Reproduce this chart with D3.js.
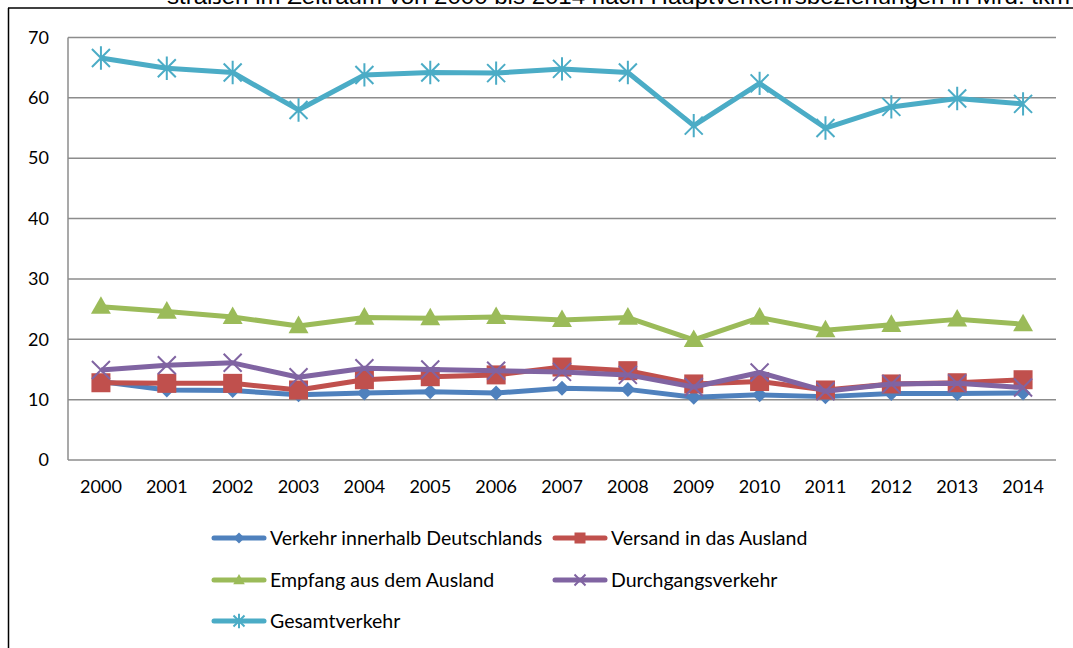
<!DOCTYPE html>
<html><head><meta charset="utf-8">
<script src="https://cdn.jsdelivr.net/npm/d3@7"></script>
<style>body{margin:0;background:#fff;overflow:hidden}</style>
</head><body>
<svg id="c" width="1073" height="648"></svg>
<script>
const years = ["2000","2001","2002","2003","2004","2005","2006","2007","2008","2009","2010","2011","2012","2013","2014"];
const yTicks = [0,10,20,30,40,50,60,70];
const titleText = "straßen im Zeitraum von 2000 bis 2014 nach Hauptverkehrsbeziehungen in Mrd. tkm";
const innerhalb = [13.0,11.6,11.5,10.8,11.1,11.3,11.1,11.9,11.7,10.4,10.8,10.5,11.0,11.0,11.1];
const versand   = [12.8,12.7,12.7,11.6,13.3,13.8,14.1,15.4,14.8,12.6,13.0,11.6,12.6,12.8,13.3];
const empfang   = [25.4,24.6,23.7,22.2,23.6,23.5,23.7,23.2,23.6,19.9,23.6,21.5,22.4,23.3,22.5];
const durchgang = [14.9,15.7,16.1,13.7,15.2,15.0,14.8,14.6,14.1,12.1,14.5,11.4,12.6,12.7,12.0];
const gesamt    = [66.6,64.9,64.2,58.0,63.8,64.2,64.1,64.8,64.2,55.4,62.4,55.0,58.5,59.9,59.0];
const seriesNames = ["Verkehr innerhalb Deutschlands","Versand in das Ausland","Empfang aus dem Ausland","Durchgangsverkehr","Gesamtverkehr"];
const seriesColors = ["#4F81BD","#C0504D","#9BBB59","#8064A2","#4BACC6"];
const seriesMarkers = ["diamond","square","triangle","x","star"];
const seriesValues = [innerhalb, versand, empfang, durchgang, gesamt];

const svg = d3.select("#c");
const font = "Lato, 'Open Sans', sans-serif";

// outer frame + clipped title
svg.append("text").attr("x",167).attr("y",4).attr("font-family","Liberation Sans, Arial, sans-serif")
  .attr("font-size",22).attr("textLength",903).attr("lengthAdjust","spacingAndGlyphs").attr("fill","#000").text(titleText);
svg.append("line").attr("x1",8).attr("x2",1073).attr("y1",8).attr("y2",8).attr("stroke","#000").attr("stroke-width",1.5);
svg.append("line").attr("x1",8.5).attr("x2",8.5).attr("y1",8).attr("y2",648).attr("stroke","#000").attr("stroke-width",1.5);

const L=68, R=1056, T=37.5, B=460;
const x = d3.scaleBand().domain(years).range([L,R]);
const y = d3.scaleLinear().domain([0,70]).range([B,T]);

// grid
svg.append("g").selectAll("line").data(yTicks).join("line")
  .attr("x1",L).attr("x2",R).attr("y1",d=>y(d)).attr("y2",d=>y(d))
  .attr("stroke","#8c8c8c").attr("stroke-width",1.5);
svg.append("line").attr("x1",L).attr("x2",L).attr("y1",T).attr("y2",B).attr("stroke","#8c8c8c").attr("stroke-width",1.5);

// y labels
const yAxis = d3.axisLeft(y).tickValues(yTicks).tickSize(0).tickPadding(19);
const ya = svg.append("g").attr("transform",`translate(${L},0)`).call(yAxis);
ya.select(".domain").remove();
ya.selectAll("text").attr("font-family",font).attr("font-size",18).attr("fill","#000");

const xAxis = d3.axisBottom(x).tickSize(0).tickPadding(20);
const xa = svg.append("g").attr("transform",`translate(0,${B})`).call(xAxis);
xa.select(".domain").remove();
xa.selectAll("text").attr("font-family",font).attr("font-size",18).attr("fill","#000");

function marker(g, type, color, s){
  if(type==="diamond"){
    g.append("path").attr("d",`M0,${-s}L${s},0L0,${s}L${-s},0Z`).attr("fill",color);
  } else if(type==="square"){
    g.append("rect").attr("x",-s).attr("y",-s).attr("width",2*s).attr("height",2*s).attr("fill",color);
  } else if(type==="triangle"){
    g.append("path").attr("d",`M0,${-s*1.1}L${s*1.05},${s*0.75}L${-s*1.05},${s*0.75}Z`).attr("fill",color);
  } else if(type==="x"){
    g.append("path").attr("d",`M${-s},${-s}L${s},${s}M${-s},${s}L${s},${-s}`).attr("stroke",color).attr("stroke-width",2);
  } else if(type==="star"){
    g.append("path").attr("d",`M${-s},${-s}L${s},${s}M${-s},${s}L${s},${-s}M0,${-s*1.3}L0,${s*1.3}`).attr("stroke",color).attr("stroke-width",2);
  }
}
const sizes = {diamond:7.5,square:9.5,triangle:9.5,x:9,star:9};

const line = d3.line().x((d,i)=>x(years[i])+x.bandwidth()/2).y(d=>y(d));
seriesValues.forEach((vals,k)=>{
  const g = svg.append("g");
  g.append("path").datum(vals).attr("d",line).attr("fill","none")
    .attr("stroke",seriesColors[k]).attr("stroke-width",5).attr("stroke-linejoin","round");
  vals.forEach((v,i)=>{
    const m = g.append("g").attr("transform",`translate(${x(years[i])+x.bandwidth()/2},${y(v)})`);
    marker(m, seriesMarkers[k], seriesColors[k], sizes[seriesMarkers[k]]);
  });
});

// legend
const legPos = [[212,538],[553,538],[212,580],[553,580],[212,621]];
seriesNames.forEach((n,k)=>{
  const [lx,ly] = legPos[k];
  const g = svg.append("g").attr("transform",`translate(${lx},${ly})`);
  g.append("line").attr("x1",2).attr("x2",52).attr("stroke",seriesColors[k]).attr("stroke-width",5).attr("stroke-linecap","round");
  const m = g.append("g").attr("transform","translate(27,0)");
  marker(m, seriesMarkers[k], seriesColors[k], 5.5);
  g.append("text").attr("x",58).attr("y",7).attr("font-family",font).attr("font-size",19.5).attr("fill","#000").text(n);
});
</script>
</body></html>
